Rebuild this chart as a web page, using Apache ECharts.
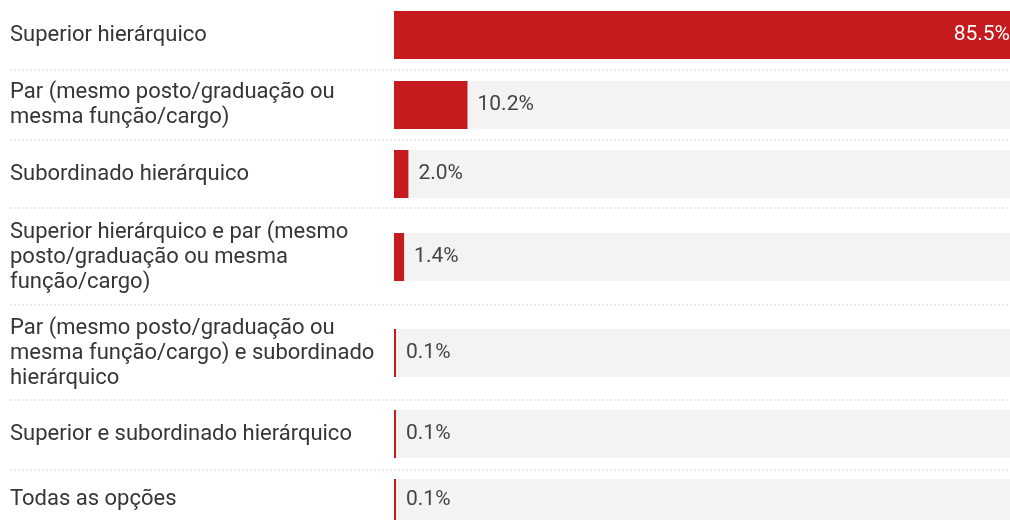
<!DOCTYPE html>
<html>
<head>
<meta charset="utf-8">
<script src="https://cdn.jsdelivr.net/npm/echarts@6/dist/echarts.min.js"></script>
<style>
    html, body { margin: 0; padding: 0; background: #fff; }
    #chart { width: 1010px; height: 520px; }
</style>
</head>
<body>
<div id="chart"></div>
<script>
    // categorias (quebras de linha como no original)
    const categories = [
        'Superior hierárquico',
        'Par (mesmo posto/graduação ou\nmesma função/cargo)',
        'Subordinado hierárquico',
        'Superior hierárquico e par (mesmo\nposto/graduação ou mesma\nfunção/cargo)',
        'Par (mesmo posto/graduação ou\nmesma função/cargo) e subordinado\nhierárquico',
        'Superior e subordinado hierárquico',
        'Todas as opções'
    ];
    const values = [85.5, 10.2, 2.0, 1.4, 0.1, 0.1, 0.1];

    // layout: centro de cada linha e posição dos separadores
    const rowCenters = [35, 105, 174, 257, 353, 434, 503];
    const separators = [70, 140, 208, 305, 400, 470];
    const barH = 48;

    const maxVal = Math.max(...values);
    const chart = echarts.init(document.getElementById('chart'));

    let grids = [], xAxes = [], yAxes = [], series = [];
    categories.forEach(function (cat, i) {
        grids.push({ left: 394, right: 0, top: rowCenters[i] - barH / 2, height: barH });
        xAxes.push({ type: 'value', gridIndex: i, min: 0, max: maxVal, show: false });
        yAxes.push({
            type: 'category', gridIndex: i, data: [cat],
            axisLine: { show: false }, axisTick: { show: false },
            axisLabel: {
                align: 'left', margin: 384, fontSize: 22, lineHeight: 25,
                color: '#363636', fontFamily: 'Roboto'
            }
        });
        const big = values[i] > 50;
        series.push({
            type: 'bar', xAxisIndex: i, yAxisIndex: i,
            barWidth: '100%', barMinHeight: 2,
            showBackground: true,
            backgroundStyle: { color: '#f3f3f3' },
            itemStyle: { color: '#c51b1e' },
            data: [{
                value: values[i],
                label: {
                    show: true,
                    position: big ? 'insideRight' : 'right',
                    distance: big ? 0 : 10,
                    color: big ? '#fff' : '#444',
                    fontSize: 21, fontFamily: 'Roboto',
                    formatter: function (p) { return p.value.toFixed(1) + '%'; }
                }
            }]
        });
    });

    const lines = separators.map(function (y) {
        return {
            type: 'line',
            shape: { x1: 10, y1: y, x2: 1010, y2: y },
            style: { stroke: '#d6d6d6', lineWidth: 1, lineDash: [2, 2] }
        };
    });

    chart.setOption({
        animation: false,
        grid: grids,
        xAxis: xAxes,
        yAxis: yAxes,
        series: series,
        graphic: lines
    });
</script>
</body>
</html>
